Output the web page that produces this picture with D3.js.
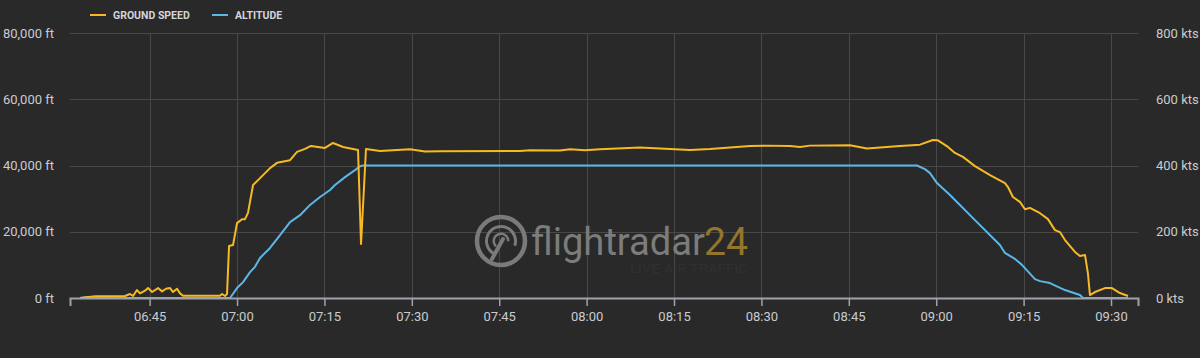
<!DOCTYPE html>
<html>
<head>
<meta charset="utf-8">
<script src="https://cdn.jsdelivr.net/npm/d3@7"></script>
<style>
  html, body { margin: 0; padding: 0; background: #292929; }
  svg { display: block; }
  .tick text { font-family: Roboto, sans-serif; }
</style>
</head>
<body>
<div id="wrapper"></div>
<script>
// ground speed (kts)
const speedTimes = [
  '06:33:04', '06:35:38', '06:40:47', '06:41:38', '06:42:09', '06:42:50', '06:43:21',
  '06:44:13', '06:44:44', '06:45:25', '06:46:27', '06:47:08', '06:47:49', '06:48:30',
  '06:49:01', '06:49:42', '06:50:13', '06:50:44', '06:57:05', '06:57:26', '06:57:56',
  '06:58:17', '06:58:38', '06:59:19', '07:00:00', '07:00:51', '07:01:22', '07:01:53',
  '07:02:45', '07:03:57', '07:05:40', '07:06:52', '07:09:06', '07:10:18', '07:11:40',
  '07:12:42', '07:15:06', '07:16:29', '07:18:12', '07:20:46', '07:21:17', '07:22:08',
  '07:24:33', '07:29:41', '07:32:16', '07:34:50', '07:48:34', '07:50:17', '07:55:26',
  '07:57:09', '07:59:43', '08:02:18', '08:09:10', '08:12:36', '08:17:45', '08:21:10',
  '08:28:02', '08:30:37', '08:34:54', '08:36:37', '08:38:20', '08:45:12', '08:48:07',
  '08:53:47', '08:57:13', '08:59:26', '09:00:18', '09:02:01', '09:03:13', '09:04:35',
  '09:06:39', '09:09:14', '09:11:48', '09:12:19', '09:13:10', '09:14:22', '09:15:14',
  '09:16:05', '09:17:49', '09:19:11', '09:20:23', '09:21:14', '09:22:06', '09:23:49',
  '09:24:40', '09:25:32', '09:26:02', '09:26:23', '09:27:15', '09:28:58', '09:30:10',
  '09:31:32', '09:32:55'
];
const speedValues = [
  0, 5, 6, 12, 6, 24, 14,
  22, 30, 18, 30, 20, 28, 30,
  18, 28, 14, 7, 7, 12, 6,
  12, 157, 160, 226, 238, 238, 257,
  341, 362, 392, 408, 416, 441, 450,
  459, 453, 468, 456, 447, 163, 450,
  444, 449, 442, 443, 444, 446, 445,
  449, 446, 449, 454, 451, 447, 450,
  459, 460, 459, 456, 460, 461, 451,
  459, 463, 477, 476, 456, 438, 426,
  398, 371, 347, 335, 305, 290, 268,
  272, 256, 238, 205, 199, 175, 139,
  127, 130, 75, 9, 18, 30, 30,
  15, 6
];

// altitude (ft)
const altTimes = [
  '06:33:04', '06:34:30', '06:36:00', '06:58:48', '07:00:00', '07:01:02', '07:02:14',
  '07:03:05', '07:03:57', '07:05:40', '07:07:23', '07:09:06', '07:10:49', '07:12:32',
  '07:14:15', '07:15:58', '07:16:49', '07:18:32', '07:20:15', '07:21:07', '07:21:37',
  '08:56:42', '08:58:04', '08:58:56', '09:00:08', '09:02:22', '09:06:39', '09:10:56',
  '09:11:48', '09:13:31', '09:14:43', '09:16:57', '09:17:49', '09:19:31', '09:22:06',
  '09:24:40', '09:25:11', '09:32:55'
];
const altValues = [
  0, 300, 0, 0, 3000, 4800, 7800,
  9400, 12100, 15100, 19000, 22900, 25000, 28100,
  30500, 32600, 34100, 36500, 38600, 39800, 40000,
  40000, 38900, 37700, 34700, 31100, 23500, 16000,
  13600, 11800, 10000, 5700, 5100, 4500, 2400,
  900, 0, 0
];

const altTicks = [0, 20000, 40000, 60000, 80000];
const speedTicks = [0, 200, 400, 600, 800];
const legendItems = [
  {label: 'GROUND SPEED', color: '#f7b924'},
  {label: 'ALTITUDE', color: '#5db6e8'},
];

const parseTime = t => d3.timeParse('%Y-%m-%d %H:%M:%S')('2020-01-01 ' + t);
const speedData = speedTimes.map((t, i) => ({t: parseTime(t), v: speedValues[i]}));
const altData = altTimes.map((t, i) => ({t: parseTime(t), v: altValues[i]}));

// dimensions
const dimensions = {
  width: 1200,
  height: 358,
  margin: {top: 33, right: 62, bottom: 60, left: 70},
};
dimensions.boundedWidth = dimensions.width - dimensions.margin.left - dimensions.margin.right;
dimensions.boundedHeight = dimensions.height - dimensions.margin.top - dimensions.margin.bottom;

const wrapper = d3.select('#wrapper')
  .append('svg')
  .attr('width', dimensions.width)
  .attr('height', dimensions.height)
  .style('background', '#292929');

const bounds = wrapper.append('g')
  .attr('transform', `translate(${dimensions.margin.left},${dimensions.margin.top})`);

// scales
const xScale = d3.scaleTime()
  .domain([parseTime('06:31:20'), parseTime('09:34:38')])
  .range([0, dimensions.boundedWidth]);
const altScale = d3.scaleLinear()
  .domain([0, 80000])
  .range([dimensions.boundedHeight, 0]);
const speedScale = d3.scaleLinear()
  .domain([0, 800])
  .range([dimensions.boundedHeight, 0]);

const xTicks = xScale.ticks(d3.timeMinute.every(15));

// grid
bounds.append('g')
  .selectAll('line')
  .data(altTicks.slice(1))
  .join('line')
  .attr('x1', 0)
  .attr('x2', dimensions.boundedWidth)
  .attr('y1', d => Math.round(altScale(d)) + 0.5)
  .attr('y2', d => Math.round(altScale(d)) + 0.5)
  .attr('stroke', '#484848');

bounds.append('g')
  .selectAll('line')
  .data(xTicks)
  .join('line')
  .attr('x1', d => Math.round(xScale(d)) + 0.5)
  .attr('x2', d => Math.round(xScale(d)) + 0.5)
  .attr('y1', 0)
  .attr('y2', dimensions.boundedHeight)
  .attr('stroke', '#484848');

// watermark
const wm = bounds.append('g')
  .attr('transform', `translate(${501 - dimensions.margin.left},${241 - dimensions.margin.top})`);
wm.append('circle').attr('r', 24).attr('fill', 'none')
  .attr('stroke', '#7a7a7a').attr('stroke-width', 4.5);
wm.append('path')
  .attr('d', d3.arc()({innerRadius: 13, outerRadius: 16, startAngle: -2.6, endAngle: 1.9}))
  .attr('fill', '#7a7a7a');
wm.append('path')
  .attr('d', d3.arc()({innerRadius: 6, outerRadius: 8.5, startAngle: -2.4, endAngle: 1.6}))
  .attr('fill', '#7a7a7a');
wm.append('line')
  .attr('x1', 2).attr('y1', -2).attr('x2', -9).attr('y2', 18)
  .attr('stroke', '#7a7a7a').attr('stroke-width', 4).attr('stroke-linecap', 'round');
wm.append('text')
  .attr('x', 30).attr('y', 14)
  .attr('font-family', 'Roboto, sans-serif')
  .attr('font-size', 38)
  .attr('fill', '#7c7c7c')
  .attr('textLength', 174)
  .attr('lengthAdjust', 'spacingAndGlyphs')
  .text('flightradar');
wm.append('text')
  .attr('x', 203).attr('y', 14)
  .attr('font-family', 'Roboto, sans-serif')
  .attr('font-size', 38)
  .attr('fill', '#94752c')
  .attr('textLength', 44)
  .attr('lengthAdjust', 'spacingAndGlyphs')
  .text('24');
wm.append('text')
  .attr('x', 247).attr('y', 32)
  .attr('text-anchor', 'end')
  .attr('font-family', 'Roboto, sans-serif')
  .attr('font-size', 12)
  .attr('fill', '#303030')
  .attr('textLength', 118)
  .attr('lengthAdjust', 'spacingAndGlyphs')
  .text('LIVE AIR TRAFFIC');

// data lines
const altLine = d3.line().x(d => xScale(d.t)).y(d => altScale(d.v));
const speedLine = d3.line().x(d => xScale(d.t)).y(d => speedScale(d.v));

bounds.append('path')
  .attr('d', altLine(altData))
  .attr('fill', 'none')
  .attr('stroke', legendItems[1].color)
  .attr('stroke-width', 2)
  .attr('stroke-linejoin', 'round');

bounds.append('path')
  .attr('d', speedLine(speedData))
  .attr('fill', 'none')
  .attr('stroke', legendItems[0].color)
  .attr('stroke-width', 2)
  .attr('stroke-linejoin', 'round');

// x axis
const xAxis = bounds.append('g')
  .attr('transform', `translate(0,${dimensions.boundedHeight})`)
  .call(d3.axisBottom(xScale)
    .tickValues(xTicks)
    .tickFormat(d3.timeFormat('%H:%M'))
    .tickSize(8)
    .tickPadding(6));
xAxis.select('.domain').attr('stroke', '#9ea3ab').attr('stroke-width', 2);
xAxis.selectAll('.tick line').attr('stroke', '#9ea3ab').attr('stroke-width', 1.5);
xAxis.selectAll('.tick text')
  .attr('fill', '#c8ccd2')
  .attr('font-size', 13);

// y axes
const leftAxis = bounds.append('g')
  .call(d3.axisLeft(altScale)
    .tickValues(altTicks)
    .tickFormat(d => d3.format(',')(d) + ' ft')
    .tickSize(0)
    .tickPadding(16));
leftAxis.select('.domain').remove();
leftAxis.selectAll('.tick text').attr('fill', '#c8ccd2').attr('font-size', 13);

const rightAxis = bounds.append('g')
  .attr('transform', `translate(${dimensions.boundedWidth},0)`)
  .call(d3.axisRight(speedScale)
    .tickValues(speedTicks)
    .tickFormat(d => d + ' kts')
    .tickSize(0)
    .tickPadding(18));
rightAxis.select('.domain').remove();
rightAxis.selectAll('.tick text').attr('fill', '#c8ccd2').attr('font-size', 13);

// legend
const legend = wrapper.append('g').attr('transform', 'translate(90,15)');
const legendX = [0, 122];
legendItems.forEach((item, i) => {
  const g = legend.append('g').attr('transform', `translate(${legendX[i]},0)`);
  g.append('line')
    .attr('x1', 0).attr('x2', 16)
    .attr('stroke', item.color).attr('stroke-width', 2);
  g.append('text')
    .attr('x', 23).attr('y', 4)
    .attr('font-family', 'Roboto, sans-serif')
    .attr('font-weight', 'bold')
    .attr('font-size', 10.5)
    .attr('fill', '#d2d5da')
    .text(item.label);
});
</script>
</body>
</html>
